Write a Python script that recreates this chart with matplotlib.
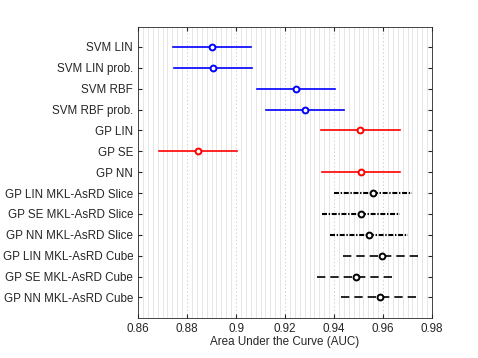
import numpy as np
import matplotlib.pyplot as plt
from matplotlib.ticker import MultipleLocator, FormatStrFormatter

plt.rcParams['font.family'] = ['Liberation Sans', 'DejaVu Sans']
plt.rcParams['font.size'] = 8.4
plt.rcParams['lines.scale_dashes'] = False

# Modelos y resultados (AUC media y semiancho del intervalo)
modelos = ['SVM LIN', 'SVM LIN prob.', 'SVM RBF', 'SVM RBF prob.',
           'GP LIN', 'GP SE', 'GP NN',
           'GP LIN MKL-AsRD Slice', 'GP SE MKL-AsRD Slice', 'GP NN MKL-AsRD Slice',
           'GP LIN MKL-AsRD Cube', 'GP SE MKL-AsRD Cube', 'GP NN MKL-AsRD Cube']
auc = [0.8902, 0.8906, 0.9246, 0.9282,
       0.9508, 0.8846, 0.9511,
       0.9560, 0.9509, 0.9543,
       0.9595, 0.9491, 0.9588]
err = [0.016, 0.016, 0.016, 0.016,
       0.016, 0.016, 0.016,
       0.016, 0.016, 0.016,
       0.016, 0.016, 0.016]
grupo = ['svm'] * 4 + ['gp'] * 3 + ['slice'] * 3 + ['cube'] * 3

estilos = {
    'svm': dict(color='blue', ls='-', lw=1.2),
    'gp': dict(color='red', ls='-', lw=1.2),
    'slice': dict(color='black', ls=(0, (3.6, 1.2, 1.0, 1.2)), lw=1.5),
    'cube': dict(color='black', ls=(0, (6, 3.6)), lw=1.2),
}

fig = plt.figure(figsize=(4.78, 3.58), dpi=100)
ax = fig.add_axes([0.2887, 0.1126, 0.6151, 0.8128])

n = len(modelos)
ys = np.arange(1, n + 1)
for y, m, e, g in zip(ys, auc, err, grupo):
    st = estilos[g]
    ax.plot([m - e, m + e], [y, y], color=st['color'], ls=st['ls'], lw=st['lw'])
    ax.plot(m, y, 'o', mfc='white', mec=st['color'], mew=1.4, ms=4.2)

ax.set_xlim(0.86, 0.98)
ax.set_ylim(n + 0.97, 0.03)
ax.set_yticks(ys)
ax.set_yticklabels(modelos)
ax.xaxis.set_major_locator(MultipleLocator(0.02))
ax.xaxis.set_minor_locator(MultipleLocator(0.002))
ax.xaxis.set_major_formatter(FormatStrFormatter('%g'))
ax.grid(True, axis='x', which='minor', color='#e2e2e2', lw=0.6)
ax.grid(True, axis='x', which='major', color='#c8c8c8', lw=0.6, ls=':')
ax.set_axisbelow(True)
ax.tick_params(which='both', direction='in', top=True, right=True,
               colors='#262626', labelcolor='#262626')
ax.tick_params(which='minor', length=0)
ax.tick_params(which='major', length=3)
for s in ax.spines.values():
    s.set_color('#262626')
    s.set_linewidth(0.6)
ax.set_xlabel('Area Under the Curve (AUC)', color='#262626', labelpad=1)

plt.savefig('out.png', dpi=100)
